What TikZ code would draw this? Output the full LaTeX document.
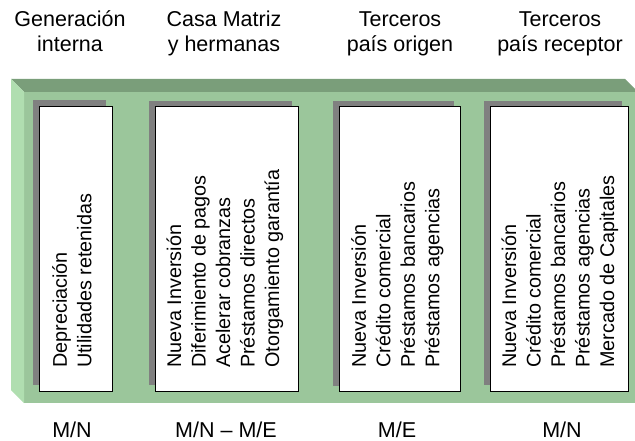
\documentclass[tikz,border=0pt]{standalone}
\usepackage{fontspec}
\setmainfont{Liberation Sans}
\definecolor{frontgreen}{RGB}{155,198,155}
\definecolor{topgreen}{RGB}{122,158,122}
\definecolor{leftgreen}{RGB}{176,222,176}
\definecolor{shadowgray}{RGB}{128,128,128}
\begin{document}
\begin{tikzpicture}[x=1pt,y=-1pt,
  hd/.style={font=\fontsize{21.5}{25}\selectfont, align=center, inner sep=0pt, anchor=base},
  lst/.style={font=\fontsize{19.8}{24.5}\selectfont, align=left, inner sep=0pt, rotate=90, anchor=west},
  card/.style={fill=white, draw=black, line width=0.8pt, inner sep=0pt, anchor=north west, minimum height=285pt},
  shadebox/.style={fill=shadowgray, draw=none}]
\useasboundingbox (0,0) rectangle (635,441);
\clip (0,0) rectangle (635,441);
% green 3D panel
\fill[frontgreen] (24,92) rectangle (640,403);
\fill[topgreen] (11,79) -- (625,79) -- (638,92) -- (24,92) -- cycle;
\fill[leftgreen] (11,79) -- (24,92) -- (24,403) -- (11,390) -- cycle;
% shadows
\fill[shadebox] (33,100) rectangle (106,385);
\fill[shadebox] (149,101) rectangle (292,385);
\fill[shadebox] (333,101) rectangle (454,386);
\fill[shadebox] (484,101) rectangle (622,385);
% white cards
\node[card, minimum width=73pt] (b1) at (39,106) {};
\node[card, minimum width=143pt] (b2) at (155,106) {};
\node[card, minimum width=121pt] (b3) at (339,106) {};
\node[card, minimum width=138pt] (b4) at (490,106) {};
% card texts
\node[lst] (t1) at (72,368) {Depreciación\\Utilidades retenidas};
\node[lst] (t2) at (225,368) {Nueva Inversión\\Diferimiento de pagos\\Acelerar cobranzas\\Préstamos directos\\Otorgamiento garantía};
\node[lst] (t3) at (397.5,368) {Nueva Inversión\\Crédito comercial\\Préstamos bancarios\\Préstamos agencias};
\node[lst] (t4) at (560,368) {Nueva Inversión\\Crédito comercial\\Préstamos bancarios\\Préstamos agencias\\Mercado de Capitales};
% headings
\node[hd] (h1) at (70,52) {Generación\\interna};
\node[hd] (h2) at (224,52) {Casa Matriz\\y hermanas};
\node[hd] (h3) at (400,52) {Terceros\\país origen};
\node[hd] (h4) at (560,52) {Terceros\\país receptor};
% currency labels
\node[hd] (m1) at (72,437) {M/N};
\node[hd] (m2) at (226,437) {M/N – M/E};
\node[hd] (m3) at (397,437) {M/E};
\node[hd] (m4) at (562,437) {M/N};
\end{tikzpicture}
\end{document}
